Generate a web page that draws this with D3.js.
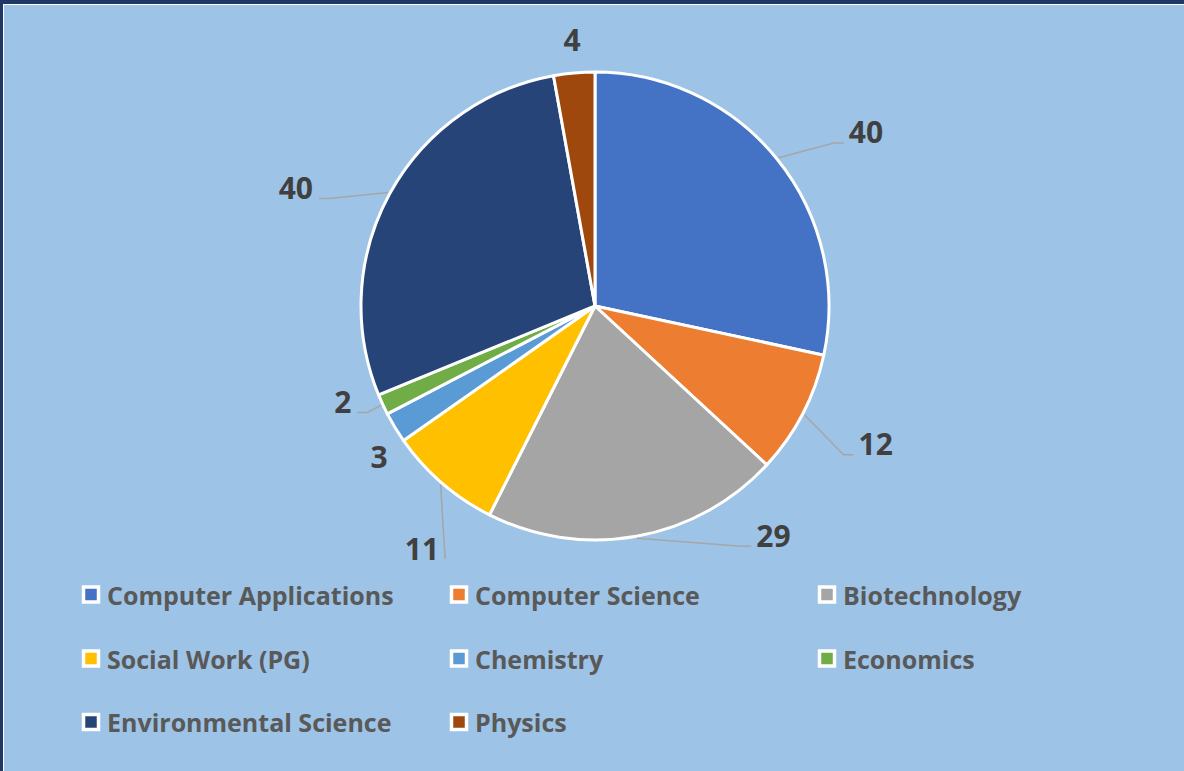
<!DOCTYPE html>
<html>
<head>
<meta charset="utf-8">
<script src="https://cdn.jsdelivr.net/npm/d3@7"></script>
<style>
  html, body { margin: 0; padding: 0; background: #9dc3e6; }
  svg { display: block; }
</style>
</head>
<body>
<script>
// chart data
const categories = ['Computer Applications', 'Computer Science', 'Biotechnology', 'Social Work (PG)',
  'Chemistry', 'Economics', 'Environmental Science', 'Physics'];
const counts = [40, 12, 29, 11, 3, 2, 40, 4];
const colors = ['#4472c4', '#ed7d31', '#a5a5a5', '#ffc000', '#5b9bd5', '#70ad47', '#264478', '#9e480e'];

// label nudges from the arc point at mid angle, plus whether a leader line is drawn
const labelShift = [[89, -27, true], [73, 30, true], [137, -1, true], [-20, 65, true],
  [-16, 29, false], [-40, -3, true], [-94, -6, true], [-2, -33, false]];

const width = 1184, height = 771;
const cx = 595, cy = 306, radius = 234;

const svg = d3.select('body').append('svg')
  .attr('width', width)
  .attr('height', height);

// background + frame
svg.append('rect').attr('width', width).attr('height', height).attr('fill', '#9dc3e6');
svg.append('rect').attr('x', 0).attr('y', 0).attr('width', width).attr('height', 4).attr('fill', '#203864');
svg.append('rect').attr('x', 0).attr('y', 0).attr('width', 3).attr('height', height).attr('fill', '#203864');
svg.append('line').attr('x1', 3.5).attr('x2', width).attr('y1', 4.5).attr('y2', 4.5)
  .attr('stroke', '#fff').attr('stroke-width', 1);
svg.append('line').attr('x1', 3.5).attr('x2', 3.5).attr('y1', 4.5).attr('y2', height)
  .attr('stroke', '#fff').attr('stroke-width', 1);

const pie = d3.pie().sort(null).value(d => d)(counts);
const arc = d3.arc().innerRadius(0).outerRadius(radius);

const g = svg.append('g').attr('transform', `translate(${cx},${cy})`);

g.selectAll('path.slice')
  .data(pie)
  .join('path')
  .attr('class', 'slice')
  .attr('d', arc)
  .attr('fill', (d, i) => colors[i])
  .attr('stroke', '#fff')
  .attr('stroke-width', 3)
  .attr('stroke-linejoin', 'round');

// data labels
const labelFont = 'bold 30px "Open Sans", "Noto Sans", sans-serif';
const labels = g.selectAll('g.lbl')
  .data(pie)
  .join('g')
  .attr('class', 'lbl');

labels.each(function(d, i) {
  const mid = (d.startAngle + d.endAngle) / 2;
  const px = Math.sin(mid) * radius, py = -Math.cos(mid) * radius;
  const [dx, dy, leader] = labelShift[i];
  const lx = px + dx, ly = py + dy;
  const sel = d3.select(this);
  const t = sel.append('text')
    .attr('x', lx).attr('y', ly)
    .attr('text-anchor', 'middle')
    .attr('dominant-baseline', 'central')
    .style('font', labelFont)
    .attr('fill', '#404040')
    .text(d.data);
  if (leader) {
    const w = t.node().getComputedTextLength();
    const right = lx > px;
    const ex = right ? lx - w / 2 - 5 : lx + w / 2 + 6;
    const ey = ly + 11;
    const pts = [[px + Math.sin(mid) * 2, py - Math.cos(mid) * 2]];
    const elbow = right ? ex - 10 : ex + 10;
    if ((right && pts[0][0] < elbow) || (!right && pts[0][0] > elbow)) pts.push([elbow, ey]);
    pts.push([ex, ey]);
    sel.insert('path', 'text')
      .attr('d', d3.line()(pts))
      .attr('fill', 'none')
      .attr('stroke', '#a6a6a6')
      .attr('stroke-width', 1.5);
  }
});

// legend
const colX = d3.scaleOrdinal().domain([0, 1, 2]).range([91, 459, 827]);
const rowY = d3.scaleOrdinal().domain([0, 1, 2]).range([594.5, 658.5, 722]);
const legend = svg.append('g').selectAll('g')
  .data(categories)
  .join('g')
  .attr('transform', (d, i) => `translate(${colX(i % 3)},${rowY(Math.floor(i / 3))})`);

legend.append('rect')
  .attr('x', -7.5).attr('y', -7.5)
  .attr('width', 15).attr('height', 15)
  .attr('fill', (d, i) => colors[i])
  .attr('stroke', '#fff')
  .attr('stroke-width', 3.5);

legend.append('text')
  .attr('x', 16)
  .attr('y', 0)
  .attr('dominant-baseline', 'central')
  .style('font', 'bold 25px "Open Sans", "Noto Sans", sans-serif')
  .attr('fill', '#595959')
  .text(d => d);
</script>
</body>
</html>
